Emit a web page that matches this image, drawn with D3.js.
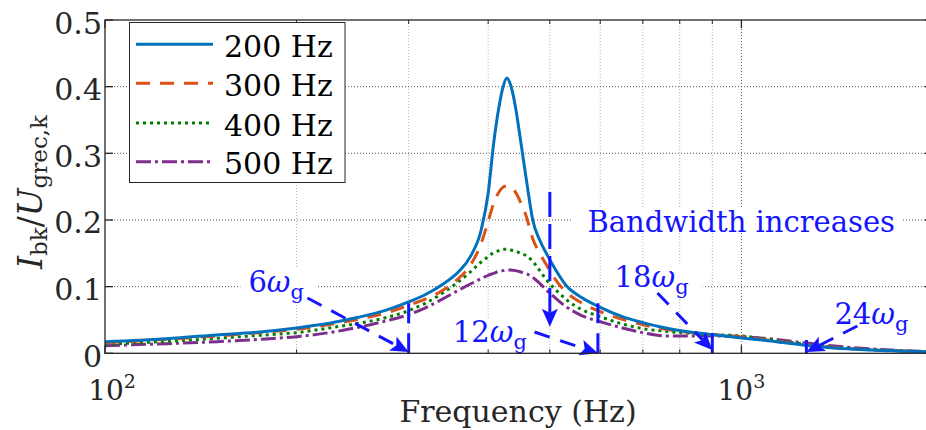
<!DOCTYPE html>
<html>
<head>
<meta charset="utf-8">
<script src="https://cdn.jsdelivr.net/npm/d3@7"></script>
<style>
  body { margin: 0; background: #fff; }
  svg { display: block; }
</style>
</head>
<body>
<svg id="chart" width="926" height="430" font-family="'DejaVu Serif', 'Liberation Serif', 'Times New Roman', serif"></svg>
<script>
// ---- data -------------------------------------------------------------
const freqHz = [100, 125, 150, 175, 200, 225, 250, 275, 300, 320, 340, 360, 375, 390, 400,
  408, 416, 422, 428, 434, 442, 450, 460, 470, 482, 495, 510, 530, 560, 600, 650, 700,
  760, 830, 900, 1000, 1100, 1250, 1400, 1600, 1800, 2000];

const gain200 = [0.0175, 0.022, 0.0275, 0.032, 0.038, 0.045, 0.054, 0.064, 0.077, 0.089, 0.104,
  0.123, 0.145, 0.185, 0.24, 0.315, 0.37, 0.399, 0.413, 0.402, 0.367, 0.318, 0.256, 0.2, 0.17,
  0.148, 0.126, 0.102, 0.084, 0.069, 0.055, 0.046, 0.038, 0.032, 0.028, 0.023, 0.019, 0.0125,
  0.008, 0.005, 0.003, 0.002];

const gain300 = [0.016, 0.021, 0.026, 0.031, 0.036, 0.043, 0.051, 0.06, 0.072, 0.082, 0.095,
  0.113, 0.132, 0.165, 0.198, 0.225, 0.242, 0.249, 0.251, 0.249, 0.241, 0.226, 0.203, 0.172,
  0.15, 0.131, 0.111, 0.092, 0.076, 0.0625, 0.051, 0.043, 0.036, 0.031, 0.028, 0.0245, 0.02,
  0.013, 0.0085, 0.005, 0.003, 0.002];

const gain400 = [0.0135, 0.018, 0.0225, 0.027, 0.031, 0.038, 0.045, 0.053, 0.064, 0.076, 0.091,
  0.108, 0.122, 0.137, 0.145, 0.151, 0.154, 0.156, 0.156, 0.155, 0.153, 0.15, 0.146, 0.138,
  0.124, 0.109, 0.096, 0.081, 0.066, 0.055, 0.044, 0.037, 0.033, 0.03, 0.028, 0.026, 0.021,
  0.014, 0.009, 0.0055, 0.0035, 0.002];

const gain500 = [0.0115, 0.0145, 0.0175, 0.021, 0.025, 0.031, 0.039, 0.048, 0.058, 0.069, 0.082,
  0.095, 0.104, 0.112, 0.117, 0.12, 0.123, 0.124, 0.125, 0.125, 0.124, 0.122, 0.119, 0.114,
  0.105, 0.094, 0.083, 0.07, 0.057, 0.0475, 0.038, 0.031, 0.026, 0.026, 0.026, 0.025, 0.022,
  0.016, 0.011, 0.0065, 0.004, 0.0025];

const seriesNames = ["200 Hz", "300 Hz", "400 Hz", "500 Hz"];
const seriesValues = [gain200, gain300, gain400, gain500];

const yTicks = [0, 0.1, 0.2, 0.3, 0.4, 0.5];
const yTickLabels = ["0", "0.1", "0.2", "0.3", "0.4", "0.5"];
const xMajorTicks = [100, 1000];
const xMajorExponents = ["2", "3"];
const xMinorTicks = [200, 300, 400, 500, 600, 700, 800, 900];

// harmonic markers (multiples of the grid frequency)
const harmonicOrders = ["6", "12", "18", "24"];
const harmonicFreqs = [300, 595, 900, 1265];
const stemTops = [0.075, 0.075, 0.03, 0.02];
const labelFreqs = [168, 352, 632, 1400];
const labelLevels = [0.0925, 0.0175, 0.1, 0.044];
const arrowFromFreqs = [208, 473, 738, 1521];
const arrowFromLevels = [0.083, 0.032, 0.0905, 0.041];
const arrowTipLevels = [0.002, 0.0, 0.005, 0.002];

const noteText = "Bandwidth increases";
const noteFreq = 573, noteLevel = 0.1825;
const noteArrowFreq = 500, noteArrowFrom = 0.242, noteArrowTo = 0.04;

// ---- styles -----------------------------------------------------------
const seriesColors = ["#0072BD", "#D95319", "#008000", "#7E2F8E"];
const seriesDash = [null, "14,10", "3,4", "15,4,3,4"];
const axisColor = "#262626";
const noteColor = "#1414ff";

// ---- scales -----------------------------------------------------------
const svg = d3.select("#chart");
const plotL = 105, plotR = 933, plotT = 20, plotB = 353.3;
const x = d3.scaleLog().domain([100, 2000]).range([plotL, plotR]);
const y = d3.scaleLinear().domain([0, 0.5]).range([plotB, plotT]);

svg.append("rect").attr("width", 926).attr("height", 430).attr("fill", "#fff");

svg.append("defs").append("clipPath").attr("id", "plotClip")
  .append("rect").attr("x", plotL).attr("y", plotT)
  .attr("width", plotR - plotL).attr("height", plotB - plotT);

// ---- grid -------------------------------------------------------------
const grid = svg.append("g");
grid.selectAll(".gx-minor").data(xMinorTicks).join("line")
  .attr("x1", d => x(d)).attr("x2", d => x(d)).attr("y1", plotT).attr("y2", plotB)
  .attr("stroke", "#b0b0b0").attr("stroke-width", 1).attr("stroke-dasharray", "1,2");
grid.selectAll(".gx-major").data(xMajorTicks.filter(d => d > 100)).join("line")
  .attr("x1", d => x(d)).attr("x2", d => x(d)).attr("y1", plotT).attr("y2", plotB)
  .attr("stroke", "#555").attr("stroke-width", 1).attr("stroke-dasharray", "1,2");
grid.selectAll(".gy").data(yTicks.filter(d => d > 0 && d < 0.5)).join("line")
  .attr("x1", plotL).attr("x2", plotR).attr("y1", d => y(d)).attr("y2", d => y(d))
  .attr("stroke", "#555").attr("stroke-width", 1).attr("stroke-dasharray", "1,2");

// ---- annotation labels (white boxes hide the grid behind them) ---------
const labelBg = svg.append("g");
const labelLayer = svg.append("g");

function addBox(node, padL, padR, padT, padB) {
  const b = node.getBBox();
  labelBg.append("rect")
    .attr("x", b.x - padL).attr("y", b.y - padT)
    .attr("width", b.width + padL + padR).attr("height", b.height + padT + padB)
    .attr("fill", "#fff");
}

harmonicOrders.forEach((n, i) => {
  const t = labelLayer.append("text")
    .attr("x", x(labelFreqs[i])).attr("y", y(labelLevels[i]))
    .attr("fill", noteColor).attr("font-size", 29);
  t.append("tspan").text(n);
  t.append("tspan").attr("font-style", "italic").text("\u03C9");
  t.append("tspan").attr("font-size", 21).attr("dy", 7).text("g");
  addBox(t.node(), 8, 14, -4, -4);
});

const note = labelLayer.append("text")
  .attr("x", x(noteFreq)).attr("y", y(noteLevel))
  .attr("fill", noteColor).attr("font-size", 29).text(noteText);
addBox(note.node(), 16, 6, -4, -6);

// ---- curves -----------------------------------------------------------
const line = d3.line()
  .x(d => x(d[0])).y(d => y(d[1]))
  .curve(d3.curveMonotoneX);

const curves = svg.append("g").attr("clip-path", "url(#plotClip)");
// draw 500 Hz first so the 200 Hz curve stays on top
[3, 2, 1, 0].forEach(i => {
  curves.append("path")
    .datum(freqHz.map((f, k) => [f, seriesValues[i][k]]))
    .attr("d", line)
    .attr("fill", "none")
    .attr("stroke", seriesColors[i])
    .attr("stroke-width", 3)
    .attr("stroke-dasharray", seriesDash[i])
    .attr("stroke-linejoin", "round");
});

// ---- harmonic stems and arrows ---------------------------------------
const notes = svg.append("g");

function arrow(x0, y0, x1, y1, dash) {
  const dx = x1 - x0, dy = y1 - y0, len = Math.hypot(dx, dy);
  const ux = dx / len, uy = dy / len, px = -uy, py = ux;
  const headL = 18, headW = 8, notch = 4;
  const bx = x1 - ux * headL, by = y1 - uy * headL;
  notes.append("line")
    .attr("x1", x0).attr("y1", y0)
    .attr("x2", bx + ux * notch).attr("y2", by + uy * notch)
    .attr("stroke", noteColor).attr("stroke-width", 3)
    .attr("stroke-dasharray", dash);
  const pts = [
    [x1, y1],
    [bx + px * headW, by + py * headW],
    [bx + ux * notch, by + uy * notch],
    [bx - px * headW, by - py * headW]
  ];
  notes.append("path").attr("d", "M" + pts.map(p => p.join(",")).join("L") + "Z")
    .attr("fill", noteColor);
}

harmonicFreqs.forEach((f, i) => {
  notes.append("line")
    .attr("x1", x(f)).attr("x2", x(f))
    .attr("y1", y(stemTops[i])).attr("y2", y(0))
    .attr("stroke", noteColor).attr("stroke-width", 3)
    .attr("stroke-dasharray", "20,10");
  arrow(x(arrowFromFreqs[i]), y(arrowFromLevels[i]), x(f), y(arrowTipLevels[i]), "16,11");
});

arrow(x(noteArrowFreq), y(noteArrowFrom), x(noteArrowFreq), y(noteArrowTo), "25,7");

// ---- axes box and ticks -----------------------------------------------
const axes = svg.append("g");
axes.append("rect")
  .attr("x", plotL).attr("y", plotT)
  .attr("width", plotR - plotL).attr("height", plotB - plotT)
  .attr("fill", "none").attr("stroke", axisColor).attr("stroke-width", 1.3);

yTicks.forEach(t => {
  axes.append("line").attr("x1", plotL).attr("x2", plotL + 8)
    .attr("y1", y(t)).attr("y2", y(t)).attr("stroke", axisColor).attr("stroke-width", 1.3);
  axes.append("line").attr("x1", plotR).attr("x2", plotR - 8)
    .attr("y1", y(t)).attr("y2", y(t)).attr("stroke", axisColor).attr("stroke-width", 1.3);
});
xMajorTicks.forEach(t => {
  axes.append("line").attr("x1", x(t)).attr("x2", x(t))
    .attr("y1", plotB).attr("y2", plotB - 8).attr("stroke", axisColor).attr("stroke-width", 1.3);
  axes.append("line").attr("x1", x(t)).attr("x2", x(t))
    .attr("y1", plotT).attr("y2", plotT + 8).attr("stroke", axisColor).attr("stroke-width", 1.3);
});
xMinorTicks.forEach(t => {
  axes.append("line").attr("x1", x(t)).attr("x2", x(t))
    .attr("y1", plotB).attr("y2", plotB - 4).attr("stroke", axisColor).attr("stroke-width", 1);
  axes.append("line").attr("x1", x(t)).attr("x2", x(t))
    .attr("y1", plotT).attr("y2", plotT + 4).attr("stroke", axisColor).attr("stroke-width", 1);
});

// tick labels
axes.selectAll(".ylab").data(yTicks).join("text")
  .attr("x", plotL - 3).attr("y", d => y(d) + 13.5)
  .attr("text-anchor", "end").attr("font-size", 30).attr("fill", axisColor)
  .text((d, i) => yTickLabels[i]);

xMajorTicks.forEach((t, i) => {
  // nudge the first decade label clear of the "0" tick label
  const shift = i === 0 ? 7 : 0;
  const lab = axes.append("text")
    .attr("x", x(t) + shift).attr("y", 400)
    .attr("text-anchor", "middle").attr("font-size", 28).attr("fill", axisColor);
  lab.append("tspan").text("10");
  lab.append("tspan").attr("font-size", 19).attr("dy", -12).text(xMajorExponents[i]);
});

// axis titles
svg.append("text")
  .attr("x", (plotL + plotR) / 2 - 1).attr("y", 421.5)
  .attr("text-anchor", "middle").attr("font-size", 30).attr("fill", axisColor)
  .text("Frequency (Hz)");

const ylab = svg.append("text")
  .attr("transform", "translate(42,192) rotate(-90)")
  .attr("text-anchor", "middle").attr("font-size", 33).attr("fill", axisColor);
ylab.append("tspan").attr("font-style", "italic").text("I");
ylab.append("tspan").attr("font-size", 23).attr("dy", 5).text("bk");
ylab.append("tspan").attr("dy", -5).text("/");
ylab.append("tspan").attr("font-style", "italic").text("U");
ylab.append("tspan").attr("font-size", 23).attr("dy", 5).text("grec,k");

// ---- legend -----------------------------------------------------------
const legend = svg.append("g");
legend.append("rect")
  .attr("x", 129.5).attr("y", 22.5).attr("width", 215.5).attr("height", 160)
  .attr("fill", "#fff").attr("stroke", axisColor).attr("stroke-width", 1);
const rowY = [44.3, 83.3, 123, 161.7];
seriesNames.forEach((name, i) => {
  legend.append("line")
    .attr("x1", 136).attr("x2", 213).attr("y1", rowY[i]).attr("y2", rowY[i])
    .attr("stroke", seriesColors[i]).attr("stroke-width", 3)
    .attr("stroke-dasharray", seriesDash[i]);
  legend.append("text")
    .attr("x", 224).attr("y", rowY[i] + 12.5)
    .attr("font-size", 30).attr("fill", "#000")
    .text(name);
});
</script>
</body>
</html>
